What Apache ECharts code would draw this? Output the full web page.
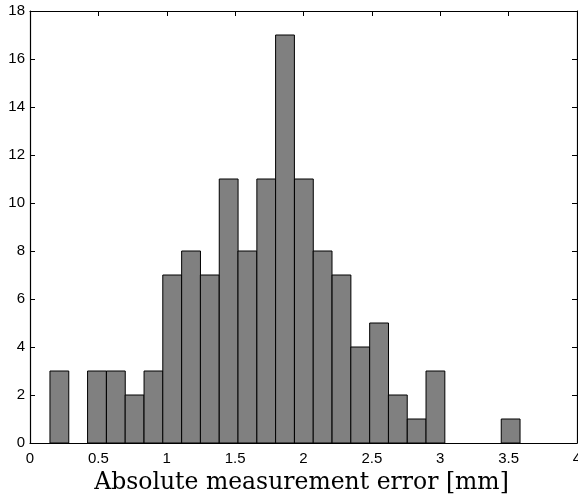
<!DOCTYPE html>
<html><head><meta charset="utf-8">
<script src="https://cdn.jsdelivr.net/npm/echarts@6/dist/echarts.min.js"></script>
<style>html,body{margin:0;padding:0;background:#fff}#c{width:578px;height:499px}</style>
</head><body><div id="c"></div>
<script>
// histogram bins: lower edges (mm), bin width, counts
const binWidth = 0.1375;
const binStarts = [0.146,0.284,0.421,0.559,0.696,0.834,0.971,1.109,1.246,1.384,1.521,1.659,1.796,1.934,2.071,2.209,2.346,2.484,2.621,2.759,2.896,3.034,3.171,3.309,3.446];
const counts =    [3,0,3,3,2,3,7,8,7,11,8,11,17,11,8,7,4,5,2,1,3,0,0,0,1];
const xTicks = [0,0.5,1,1.5,2,2.5,3,3.5,4];
const yTicks = [0,2,4,6,8,10,12,14,16,18];
const xTitle = 'Absolute measurement error [mm]';

const data = binStarts.map((s,i)=>[s, s+binWidth, counts[i]]);
const chart = echarts.init(document.getElementById('c'), null, {renderer:'canvas'});
const lblFont = {fontFamily:'Liberation Sans, Arial, sans-serif', fontSize:15, color:'#000'};
const lineSt = {color:'#000',width:1.2};
chart.setOption({
  animation:false,
  grid:{left:30,right:1,top:11,bottom:56,containLabel:false,outerBoundsMode:'none'},
  xAxis:[{
    type:'value',min:0,max:4,interval:0.5,position:'bottom',
    axisLine:{show:true,onZero:false,lineStyle:lineSt},
    axisTick:{show:true,inside:true,length:5,lineStyle:{color:'#000'}},
    axisLabel:Object.assign({margin:8,showMinLabel:true,showMaxLabel:true,formatter:v=>String(v)},lblFont),
    splitLine:{show:false},
    name:xTitle,nameLocation:'middle',nameGap:26,
    nameTextStyle:{fontFamily:'DejaVu Serif, serif',fontSize:23.5,color:'#000',padding:[0,4,0,0]}
  },{
    type:'value',min:0,max:4,interval:0.5,position:'top',
    axisLine:{show:true,onZero:false,lineStyle:lineSt},
    axisTick:{show:true,inside:true,length:5,lineStyle:{color:'#000'}},
    axisLabel:{show:false},splitLine:{show:false}
  }],
  yAxis:[{
    type:'value',min:0,max:18,interval:2,position:'left',
    axisLine:{show:true,onZero:false,lineStyle:lineSt},
    axisTick:{show:true,inside:true,length:5,lineStyle:{color:'#000'}},
    axisLabel:Object.assign({margin:5},lblFont),
    splitLine:{show:false}
  },{
    type:'value',min:0,max:18,interval:2,position:'right',
    axisLine:{show:true,onZero:false,lineStyle:lineSt},
    axisTick:{show:true,inside:true,length:5,lineStyle:{color:'#000'}},
    axisLabel:{show:false},splitLine:{show:false}
  }],
  series:[{
    type:'custom',
    xAxisIndex:0,yAxisIndex:0,
    data:data,
    encode:{x:[0,1],y:2},
    renderItem:function(params,api){
      if(api.value(2)<=0) return null;
      const p0 = api.coord([api.value(0),0]);
      const p1 = api.coord([api.value(1),api.value(2)]);
      return {type:'rect',shape:{x:p0[0],y:p1[1],width:p1[0]-p0[0],height:p0[1]-p1[1]},
        style:{fill:'#808080',stroke:'#000',lineWidth:1}};
    }
  }]
});
</script></body></html>
